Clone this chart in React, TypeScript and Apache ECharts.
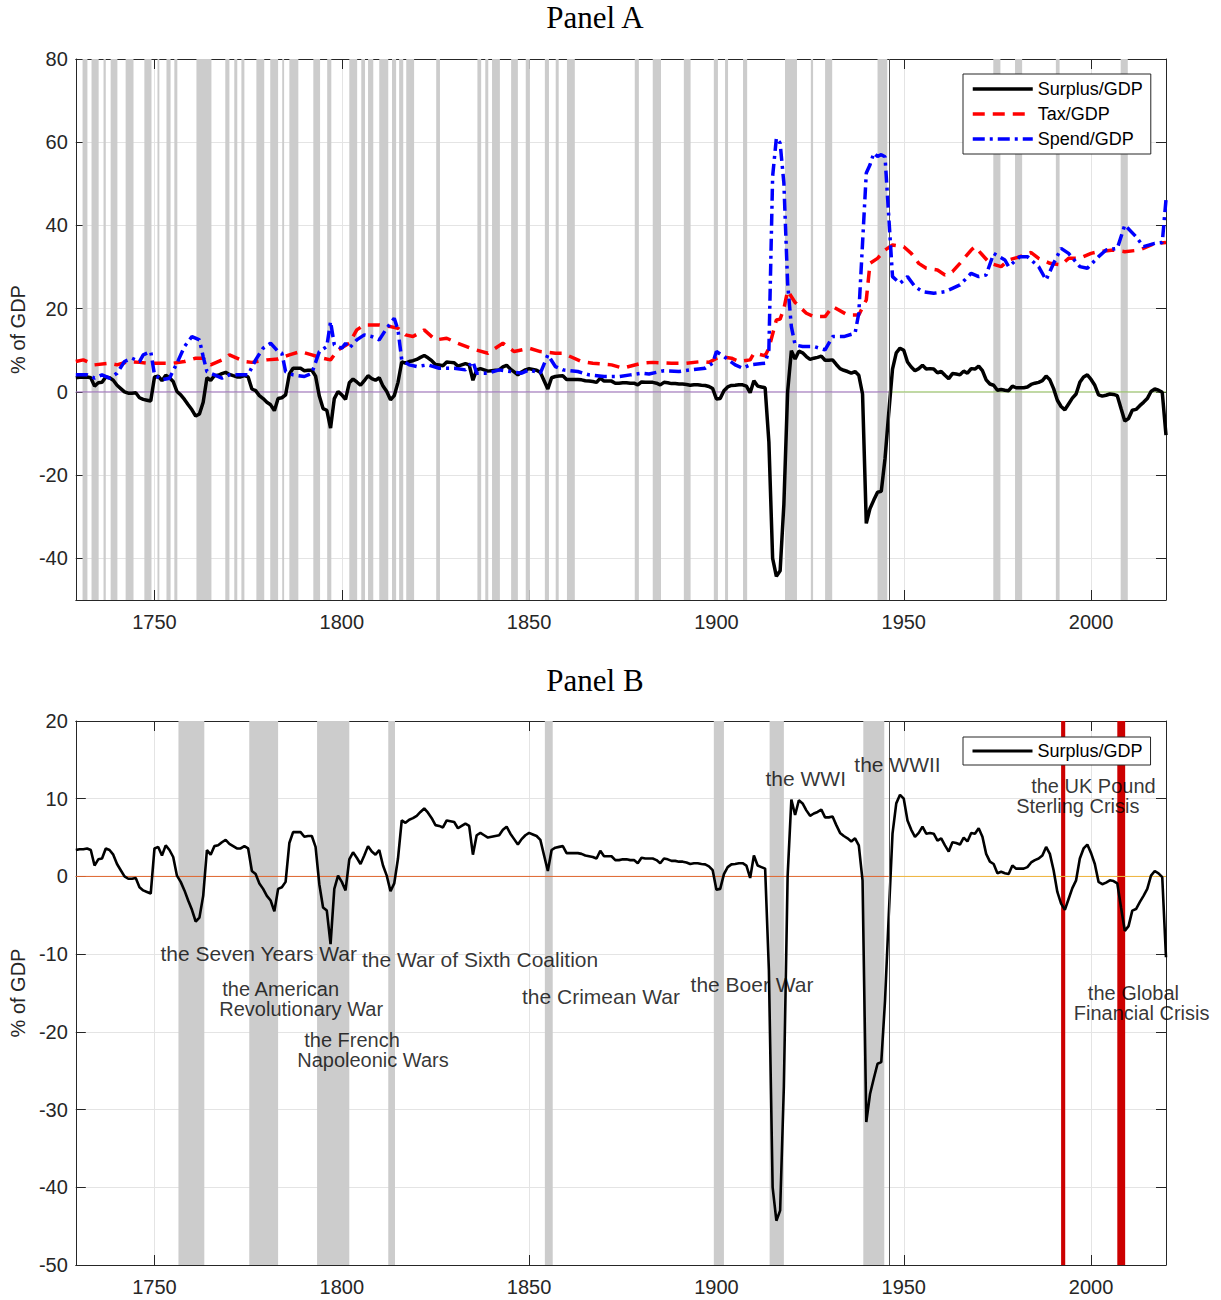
import React, { useEffect, useRef } from "react";
import * as echarts from "echarts";

// ---------------- DATA ----------------
const X_MIN = 1729;
const X_MAX = 2020;
const ZERO_SPLIT = 1946;

const surplusStartYear = 1729;
const surplusValues = [
  /*1729*/ 3.4,
  /*1730s*/ 3.5, 3.5, 3.6, 3.4, 1.4, 2.2, 2.3, 3.6, 3.4, 2.8,
  /*1740s*/ 1.6, 0.8, 0.0, -0.3, -0.3, -0.2, -1.4, -1.8, -2.0, -2.2,
  /*1750s*/ 3.6, 3.8, 2.7, 4.0, 3.4, 2.5, 0.1, -0.7, -1.8, -3.1,
  /*1760s*/ -4.3, -5.8, -5.3, -2.5, 3.4, 2.8, 3.9, 4.0, 4.4, 4.7,
  /*1770s*/ 4.2, 3.9, 3.6, 3.6, 3.9, 3.6, 0.7, 0.3, -0.9, -1.6,
  /*1780s*/ -2.5, -3.1, -4.5, -1.6, -1.4, -0.7, 4.3, 5.7, 5.7, 5.7,
  /*1790s*/ 5.1, 5.2, 5.2, 3.8, -1.0, -4.0, -4.4, -8.7, -1.6, 0.1,
  /*1800s*/ -0.7, -1.8, 2.2, 3.1, 2.4, 1.6, 2.7, 3.9, 3.2, 2.8,
  /*1810s*/ 3.4, 1.4, 0.1, -1.9, -0.9, 2.3, 7.2, 6.9, 7.3, 7.5,
  /*1820s*/ 7.8, 8.3, 8.75, 8.2, 7.5, 6.6, 6.5, 6.3, 7.2, 7.1,
  /*1830s*/ 7.0, 6.2, 6.5, 6.8, 6.5, 2.8, 5.3, 5.6, 5.3, 5.0,
  /*1840s*/ 5.1, 5.2, 5.3, 6.0, 6.4, 5.5, 4.8, 4.1, 4.8, 5.3,
  /*1850s*/ 5.6, 5.4, 5.2, 4.7, 2.7, 0.7, 3.4, 3.7, 3.8, 3.9,
  /*1860s*/ 3.0, 3.0, 3.0, 3.0, 2.9, 2.7, 2.6, 2.5, 2.3, 3.3,
  /*1870s*/ 2.6, 2.6, 2.6, 2.1, 2.1, 2.2, 2.2, 2.1, 2.1, 1.7,
  /*1880s*/ 2.4, 2.3, 2.3, 2.3, 2.1, 1.7, 2.3, 2.2, 2.0, 2.0,
  /*1890s*/ 1.9, 1.9, 1.8, 1.6, 1.7, 1.7, 1.6, 1.55, 1.3, 0.8,
  /*1900s*/ -1.7, -1.6, 0.3, 1.2, 1.55, 1.6, 1.7, 1.7, 1.4, -0.2,
  /*1910s*/ 2.7, 1.4, 1.2, 1.0, -12, -40, -44.3, -43, -27, 0,
  /*1920s*/ 9.9, 7.9, 9.8, 9.4, 8.5, 7.8, 8.1, 8.3, 8.6, 7.6,
  /*1930s*/ 7.6, 7.7, 6.6, 5.6, 5.2, 4.9, 4.5, 4.9, 4.0, -0.5,
  /*1940s*/ -31.6, -28, -26, -24.1, -23.9, -16, -5, 5.5, 9.4, 10.5,
  /*1950s*/ 10.0, 7.2, 6.0, 5.1, 5.6, 6.4, 5.5, 5.6, 5.5, 4.6,
  /*1960s*/ 4.9, 4.0, 3.2, 4.4, 4.3, 4.1, 5.0, 4.5, 5.6, 5.5,
  /*1970s*/ 6.2, 5.1, 2.9, 1.9, 1.6, 0.4, 0.6, 0.4, 0.3, 1.4,
  /*1980s*/ 1.0, 1.0, 1.0, 1.2, 1.8, 2.1, 2.3, 2.7, 3.8, 2.9,
  /*1990s*/ 0.8, -2.0, -3.5, -4.3, -2.9, -1.5, -0.5, 2.3, 3.6, 4.1,
  /*2000s*/ 3.0, 1.6, -0.7, -1.0, -0.8, -0.5, -0.6, -0.9, -4.0, -7.0,
  /*2010s*/ -6.4, -4.4, -4.2, -3.3, -2.5, -1.6, 0.1, 0.7, 0.4, -0.1,
  /*2020*/ -10.4,
];

const taxYears = [
  1729, 1731, 1734, 1738, 1740, 1743, 1746, 1748, 1752, 1755, 1758, 1761, 1763, 1765, 1768, 1770, 1774, 1776, 1780, 1783,
  1786, 1789, 1792, 1795, 1797, 1799, 1802, 1804, 1806, 1808, 1810, 1813, 1815, 1817, 1819, 1822, 1825, 1828, 1831, 1835,
  1839, 1843, 1846, 1850, 1853, 1857, 1859, 1864, 1867, 1872, 1875, 1880, 1883, 1888, 1892, 1896, 1898, 1901, 1904, 1906,
  1909, 1910, 1913, 1914, 1916, 1917, 1918, 1919, 1921, 1924, 1926, 1929, 1931, 1935, 1938, 1940, 1941, 1943, 1945, 1947,
  1950, 1952, 1954, 1956, 1959, 1961, 1963, 1965, 1968, 1969, 1971, 1973, 1976, 1978, 1981, 1984, 1986, 1989, 1992, 1994,
  1997, 2000, 2002, 2006, 2009, 2013, 2017, 2020,
];
const taxValues = [
  7.3, 7.7, 6.5, 6.9, 6.5, 7.3, 7.1, 6.9, 6.9, 6.9, 7.3, 8.1, 8.1, 6.5, 7.7, 8.9, 7.3, 7.1, 7.7, 7.9,
  8.9, 9.7, 8.9, 8.1, 7.7, 10.1, 11.7, 14.9, 16.1, 16.1, 16.1, 15.7, 15.3, 13.7, 13.3, 14.9, 12.5, 12.9, 11.7, 10.3,
  9.3, 11.7, 9.7, 10.5, 9.7, 9.3, 9.3, 7.3, 6.9, 6.5, 5.7, 6.9, 7.1, 6.9, 6.9, 7.3, 7.1, 8.5, 8.1, 7.3,
  7.7, 9.3, 8.7, 10.5, 17.3, 17.5, 20.0, 24.3, 21.5, 18.9, 18.1, 18.1, 20.5, 18.5, 18.5, 22.1, 30.9, 32.1, 34.1, 35.3,
  34.9, 33.3, 30.9, 29.7, 29.3, 28.1, 28.9, 30.9, 34.1, 34.9, 32.9, 30.9, 30.1, 31.7, 32.5, 33.5, 32.1, 30.9, 30.5, 32.1,
  32.1, 33.3, 33.7, 34.1, 33.7, 34.1, 35.7, 35.9,
];

const spendYears = [
  1729, 1732, 1734, 1736, 1738, 1740, 1742, 1744, 1746, 1747, 1749, 1750, 1752, 1754, 1756, 1758, 1760, 1762, 1763, 1764,
  1766, 1768, 1770, 1773, 1775, 1777, 1779, 1781, 1783, 1784, 1785, 1787, 1790, 1792, 1794, 1796, 1797, 1798, 1800, 1801,
  1802, 1804, 1806, 1808, 1810, 1812, 1814, 1815, 1816, 1818, 1820, 1823, 1826, 1830, 1833, 1835, 1836, 1839, 1842, 1845,
  1848, 1850, 1853, 1855, 1857, 1859, 1863, 1866, 1870, 1874, 1877, 1880, 1882, 1886, 1890, 1893, 1897, 1899, 1900, 1902,
  1905, 1907, 1909, 1913, 1914, 1915, 1916, 1917, 1918, 1919, 1920, 1921, 1923, 1926, 1929, 1931, 1934, 1937, 1938, 1940,
  1941, 1942, 1943, 1944, 1945, 1946, 1947, 1949, 1951, 1953, 1955, 1958, 1961, 1963, 1965, 1968, 1970, 1972, 1974, 1977,
  1978, 1981, 1983, 1986, 1988, 1990, 1992, 1994, 1997, 1999, 2002, 2004, 2007, 2009, 2012, 2014, 2017, 2019, 2020,
];
const spendValues = [
  4.1, 4.1, 3.3, 4.1, 3.3, 4.5, 7.3, 8.1, 7.3, 8.9, 9.7, 4.1, 2.9, 3.3, 6.9, 10.9, 13.3, 12.5, 8.5, 4.9,
  4.1, 3.3, 4.1, 4.1, 4.1, 7.7, 10.5, 11.7, 9.7, 9.3, 4.9, 4.1, 3.7, 4.5, 9.7, 10.9, 16.9, 11.3, 10.5, 11.7,
  10.5, 12.5, 13.7, 13.3, 12.5, 15.3, 17.7, 14.9, 7.7, 6.5, 6.1, 6.5, 5.7, 5.7, 5.3, 7.3, 4.5, 4.5, 5.3, 4.9,
  4.5, 5.3, 4.5, 8.9, 6.1, 5.3, 4.9, 4.1, 3.7, 3.7, 4.1, 4.5, 4.3, 5.1, 4.9, 5.3, 5.7, 6.9, 9.7, 8.5,
  6.5, 5.7, 6.5, 6.9, 10.1, 51.8, 61.0, 59.8, 50.2, 26.1, 15.7, 11.3, 10.9, 10.9, 10.1, 13.3, 13.3, 14.1, 18.9, 52.6,
  54.6, 57.4, 56.6, 57.0, 56.5, 42.1, 27.7, 26.1, 27.7, 25.3, 24.1, 23.7, 24.1, 24.9, 25.7, 28.5, 27.7, 28.1, 33.3, 31.7,
  30.1, 32.5, 32.5, 30.1, 26.9, 30.9, 34.5, 33.3, 30.1, 29.7, 32.5, 34.1, 34.5, 40.1, 37.3, 34.9, 35.7, 35.9, 46.2,
];

// shaded war periods (start year, end year)
const panelAWars = [
  [1730.8, 1732.1], [1733.2, 1735.1], [1736.4, 1737.0], [1738.3, 1740.1], [1742.3, 1744.4], [1747.3, 1749.2],
  [1750.8, 1751.3], [1753.2, 1754.3], [1755.3, 1756.1], [1761.2, 1765.2], [1768.9, 1770.0], [1771.3, 1772.1],
  [1773.2, 1774.0], [1777.2, 1779.3], [1780.9, 1783.0], [1784.1, 1784.6], [1786.0, 1788.4], [1792.4, 1794.2],
  [1796.1, 1797.2], [1802.0, 1804.1], [1805.2, 1806.2], [1807.0, 1808.4], [1810.0, 1812.4], [1813.4, 1814.5],
  [1815.3, 1816.4], [1817.2, 1819.3], [1825.2, 1826.2], [1836.2, 1837.2], [1838.3, 1839.1], [1840.1, 1842.2],
  [1845.2, 1847.0], [1849.1, 1850.2], [1854.2, 1855.3], [1857.1, 1857.9], [1860.1, 1862.2], [1878.2, 1879.3],
  [1883.0, 1885.2], [1891.3, 1893.1], [1899.3, 1900.4], [1902.3, 1903.1], [1907.1, 1908.2], [1918.3, 1921.5],
  [1925.2, 1925.8], [1929.0, 1930.9], [1943.0, 1945.6], [1973.9, 1975.8], [1979.7, 1981.6], [1990.6, 1991.6],
  [2007.9, 2009.8],
];
const panelBWars = [
  [1756.4, 1763.3], [1775.3, 1783.0], [1793.4, 1802.0], [1812.4, 1814.2], [1854.2, 1856.3],
  [1899.3, 1902.0], [1914.2, 1918.0], [1939.2, 1944.8],
];
const panelBCrises = [
  [1992.0, 1993.1], [2007.0, 2009.1],
];

// annotation text lines anchored at (year, value) of the text block's left-middle
const annotations = [
  { lines: ["the Seven Years War"], year: 1751.6, value: -9.9 },
  { lines: ["the War of Sixth Coalition"], year: 1805.4, value: -10.7 },
  { lines: ["the American", "Revolutionary War"], year: 1767.3, value: -15.8 },
  { lines: ["the French", "Napoleonic Wars"], year: 1788.1, value: -22.3 },
  { lines: ["the Crimean War"], year: 1848.1, value: -15.4 },
  { lines: ["the Boer War"], year: 1893.1, value: -13.9 },
  { lines: ["the WWI"], year: 1913.1, value: 12.6 },
  { lines: ["the WWII"], year: 1936.8, value: 14.4 },
  { lines: ["the UK Pound", "Sterling Crisis"], year: 1980.0, value: 10.3 },
  { lines: ["the Global", "Financial Crisis"], year: 1995.4, value: -16.3 },
];
// per-block first-line indent (px), a style detail
const firstLineIndent: Record<string, number> = {
  "the American": 3,
  "the French": 7,
  "the UK Pound": 15,
  "the Global": 14,
};

// ---------------- BUILD ----------------
const surplusData = surplusValues.map((v, i) => [surplusStartYear + i, v]);
const taxData = taxYears.map((y, i) => [y, taxValues[i]]);
const spendData = spendYears.map((y, i) => [y, spendValues[i]]);

const SANS = "'Liberation Sans', Arial, Helvetica, sans-serif";
const AXIS_COLOR = "#262626";
const GRID_COLOR = "#e4e4e4";

function xAxes(gridIndex: number) {
  const common = {
    gridIndex,
    type: "value",
    min: X_MIN,
    max: X_MAX,
    minInterval: 50,
    maxInterval: 50,
    axisLine: { show: true, onZero: false, lineStyle: { color: AXIS_COLOR, width: 1 } },
    axisTick: { show: true, inside: true, length: 10, lineStyle: { color: AXIS_COLOR } },
  };
  return [
    {
      ...common,
      position: "bottom",
      axisLabel: {
        show: true, fontSize: 20, color: AXIS_COLOR, margin: 12, fontFamily: SANS,
        showMinLabel: false, showMaxLabel: false,
        formatter: (v: number) => String(v),
      },
      splitLine: { show: true, lineStyle: { color: GRID_COLOR, width: 1 } },
    },
    {
      ...common,
      position: "top",
      axisLabel: { show: false },
      splitLine: { show: false },
    },
  ];
}

function yAxes(gridIndex: number, min: number, max: number, step: number, hideMin: boolean) {
  const common: any = {
    gridIndex,
    type: "value",
    min,
    max,
    minInterval: step,
    maxInterval: step,
    axisLine: { show: true, onZero: false, lineStyle: { color: AXIS_COLOR, width: 1 } },
    axisTick: { show: true, inside: true, length: 10, lineStyle: { color: AXIS_COLOR } },
  };
  return [
    {
      ...common,
      position: "left",
      name: "% of GDP",
      nameLocation: "middle",
      nameGap: 47,
      nameTextStyle: { fontSize: 20, color: AXIS_COLOR, fontFamily: SANS },
      axisLabel: {
        show: true, fontSize: 20, color: AXIS_COLOR, margin: 8, fontFamily: SANS,
        showMinLabel: !hideMin, showMaxLabel: true,
      },
      splitLine: { show: true, lineStyle: { color: GRID_COLOR, width: 1 } },
    },
    {
      ...common,
      position: "right",
      axisLabel: { show: false },
      splitLine: { show: false },
    },
  ];
}

const greyArea = (list: number[][]) =>
  list.map(([s, e]) => [{ xAxis: s, itemStyle: { color: "#cccccc", opacity: 1 } }, { xAxis: e }]);
const redArea = (list: number[][]) =>
  list.map(([s, e]) => [{ xAxis: s, itemStyle: { color: "#cc0000", opacity: 1 } }, { xAxis: e }]);

const dividerLine = {
  silent: true,
  symbol: ["none", "none"],
  label: { show: false },
  lineStyle: { color: "#555555", width: 1, type: "solid" },
  data: [{ xAxis: ZERO_SPLIT }],
};

function zeroSeries(xi: number, yi: number, c1: string, c2: string) {
  return [
    {
      type: "line", xAxisIndex: xi, yAxisIndex: yi, silent: true, symbol: "none", z: 2,
      lineStyle: { color: c1, width: 1 },
      data: [[X_MIN, 0], [ZERO_SPLIT, 0]],
    },
    {
      type: "line", xAxisIndex: xi, yAxisIndex: yi, silent: true, symbol: "none", z: 2,
      lineStyle: { color: c2, width: 1 },
      data: [[ZERO_SPLIT, 0], [X_MAX, 0]],
    },
  ];
}

const MULTI_FS = 20;
const MULTI_LH = 20;
const annRich: Record<string, any> = {
  t: { fontSize: MULTI_FS, color: "#000", fontFamily: SANS, lineHeight: MULTI_LH },
};
const indentKeys = Object.keys(firstLineIndent);
indentKeys.forEach((k, i) => {
  annRich["i" + i] = {
    fontSize: MULTI_FS, color: "#000", fontFamily: SANS, lineHeight: MULTI_LH,
    padding: [0, 0, 0, firstLineIndent[k]],
  };
});
function annLabel(lines: string[]) {
  if (lines.length === 1) return lines[0];
  return lines
    .map((ln) => {
      const idx = indentKeys.indexOf(ln);
      return idx >= 0 ? `{i${idx}|${ln}}` : `{t|${ln}}`;
    })
    .join("\n");
}

const legendCommon = {
  orient: "vertical",
  itemWidth: 60, itemHeight: 14, itemGap: 7,
  borderColor: AXIS_COLOR, borderWidth: 1, backgroundColor: "#ffffff",
  selectedMode: false,
  itemStyle: { opacity: 0 },
  textStyle: { fontSize: 18, color: "#000", fontFamily: SANS },
};

const serifTitle = (text: string, y: number) => ({
  type: "text", x: 595, y,
  style: {
    text, fill: "#000", fontSize: 31, fontFamily: "'Liberation Serif', 'DejaVu Serif', serif",
    align: "center", verticalAlign: "middle", textAlign: "center", textVerticalAlign: "middle",
  },
});

const option: any = {
  animation: false,
  backgroundColor: "#ffffff",
  textStyle: { fontFamily: SANS },
  graphic: [serifTitle("Panel A", 17), serifTitle("Panel B", 680)],
  grid: [
    { left: 75, top: 59, width: 1091, height: 541, show: false },
    { left: 75, top: 721, width: 1091, height: 544, show: false },
  ],
  legend: [
    {
      ...legendCommon,
      data: ["Surplus/GDP", "Tax/GDP", "Spend/GDP"],
      left: 963, top: 74,
      padding: [6, 8, 6, 8],
      lineStyle: { width: 3.5 },
    },
    {
      ...legendCommon,
      data: ["Surplus/GDP"],
      left: 963, top: 737,
      padding: [5, 8, 5, 8],
      lineStyle: { width: 3 },
    },
  ],
  xAxis: [...xAxes(0), ...xAxes(1)],
  yAxis: [...yAxes(0, -50, 80, 20, true), ...yAxes(1, -50, 20, 10, false)],
  series: [
    ...zeroSeries(0, 0, "#9f6dbd", "#93c25a"),
    {
      name: "Surplus/GDP", type: "line", xAxisIndex: 0, yAxisIndex: 0,
      symbol: "none", showSymbol: false, z: 3,
      itemStyle: { color: "#000000" },
      lineStyle: { color: "#000000", width: 3.5 },
      data: surplusData,
      markArea: { silent: true, z: 1, data: greyArea(panelAWars) },
      markLine: dividerLine,
    },
    {
      name: "Tax/GDP", type: "line", xAxisIndex: 0, yAxisIndex: 0,
      symbol: "none", showSymbol: false, z: 4,
      itemStyle: { color: "#ff0000" },
      lineStyle: { color: "#ff0000", width: 3.5, type: [12, 8] },
      data: taxData,
    },
    {
      name: "Spend/GDP", type: "line", xAxisIndex: 0, yAxisIndex: 0,
      symbol: "none", showSymbol: false, z: 5,
      itemStyle: { color: "#0000ff" },
      lineStyle: { color: "#0000ff", width: 3.5, type: [12, 5, 3, 5] },
      data: spendData,
    },
    ...zeroSeries(2, 2, "#e0662e", "#f0b43a"),
    {
      name: "Surplus/GDP", type: "line", xAxisIndex: 2, yAxisIndex: 2,
      symbol: "none", showSymbol: false, z: 3,
      itemStyle: { color: "#000000" },
      lineStyle: { color: "#000000", width: 2.6 },
      data: surplusData,
      markArea: { silent: true, z: 1, data: [...greyArea(panelBWars), ...redArea(panelBCrises)] },
      markLine: dividerLine,
    },
    {
      type: "scatter", xAxisIndex: 2, yAxisIndex: 2, silent: true, z: 6,
      symbolSize: 0,
      label: {
        show: true, position: [0, 0], align: "left", verticalAlign: "middle",
        formatter: (p: any) => annLabel(annotations[p.dataIndex].lines),
        rich: annRich,
        fontSize: 21, color: "#000", fontFamily: SANS,
      },
      labelLayout: { hideOverlap: false },
      data: annotations.map((a) => ({ name: a.lines.join(" "), value: [a.year, a.value] })),
    },
  ],
};

export default function App() {
  const ref = useRef<HTMLDivElement>(null);
  useEffect(() => {
    if (!ref.current) return;
    const chart = echarts.init(ref.current, null, { renderer: "svg" });
    chart.setOption(option);
    return () => chart.dispose();
  }, []);
  return (
    <div
      ref={ref}
      style={{ position: "absolute", left: 0, top: 0, width: 1221, height: 1300, background: "#fff" }}
    />
  );
}
